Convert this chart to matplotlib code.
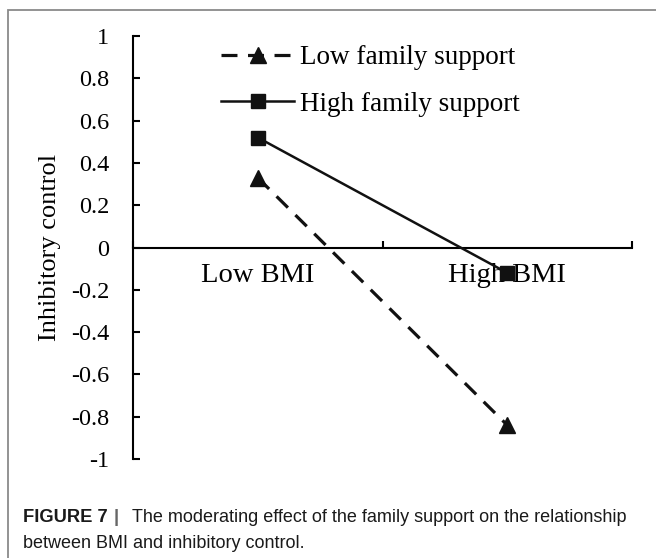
import matplotlib.pyplot as plt
from matplotlib.patches import Rectangle

# Data
categories = ["Low BMI", "High BMI"]
low_support = [0.33, -0.84]
high_support = [0.52, -0.12]
series_labels = ["Low family support", "High family support"]
y_ticks = [1, 0.8, 0.6, 0.4, 0.2, 0, -0.2, -0.4, -0.6, -0.8, -1]
y_tick_labels = ["1", "0.8", "0.6", "0.4", "0.2", "0", "-0.2", "-0.4", "-0.6", "-0.8", "-1"]

W, H = 656, 558
SERIF = "Liberation Serif"
SANS = "Liberation Sans"

fig = plt.figure(figsize=(W / 100, H / 100), dpi=100)

# light frame around the figure panel
fig.patches.append(Rectangle((8 / W, -0.1), 1.2, 1 - 10 / H + 0.1, transform=fig.transFigure,
                             fill=False, edgecolor="#8a8a8a", lw=1.3))

ax = fig.add_axes([133 / W, 1 - 459 / H, (632 - 133) / W, (459 - 36) / H])

x = [0.5, 1.5]
ax.plot(x, low_support, color="#111111", lw=2.3, ls=(0, (5, 3.3)), marker="^", ms=11,
        label=series_labels[0], zorder=3, clip_on=False)
ax.plot(x, high_support, color="#111111", lw=1.8, ls="-", marker="s", ms=10,
        label=series_labels[1], zorder=3, clip_on=False)

ax.set_xlim(0, 2)
ax.set_ylim(-1, 1)
ax.spines[["top", "right"]].set_visible(False)
ax.spines["bottom"].set_position(("data", 0))
for s in ["left", "bottom"]:
    ax.spines[s].set_linewidth(1.5)

ax.set_yticks(y_ticks)
ax.set_yticklabels(y_tick_labels, family=SERIF)
ax.tick_params(axis="y", direction="in", length=5, width=1.5, pad=17, labelsize=17.5)

ax.set_xticks([0, 1, 2])
ax.set_xticklabels([])
ax.set_xticks(x, minor=True)
ax.set_xticklabels(categories, minor=True, family=SERIF)
ax.tick_params(axis="x", which="major", direction="in", length=5, width=1.5)
ax.tick_params(axis="x", which="minor", length=0, pad=11, labelsize=20.5)

ax.set_ylabel("Inhibitory control", family=SERIF, fontsize=19)
ax.yaxis.set_label_coords(-0.145, 0.5)

ax.legend(loc="upper left", bbox_to_anchor=(221 / W, 1 - 45 / H), bbox_transform=fig.transFigure,
          frameon=False, prop={"family": SERIF, "size": 19.5}, handlelength=2.7,
          handletextpad=0.2, labelspacing=0.8, borderpad=0, borderaxespad=0, numpoints=1)

# caption
cap_size = 13.2
fig.text(23 / W, 1 - 517 / H, "FIGURE 7", family=SANS, weight="bold", fontsize=cap_size,
         va="center", color="#1a1a1a")
fig.text(114 / W, 1 - 517 / H, "|", family=SANS, weight="bold", fontsize=cap_size,
         va="center", color="#666666")
fig.text(132 / W, 1 - 517 / H, "The moderating effect of the family support on the relationship",
         family=SANS, fontsize=13, va="center", color="#1a1a1a")
fig.text(23 / W, 1 - 543 / H, "between BMI and inhibitory control.", family=SANS,
         fontsize=13, va="center", color="#1a1a1a")

fig.savefig("out.png", dpi=100)
